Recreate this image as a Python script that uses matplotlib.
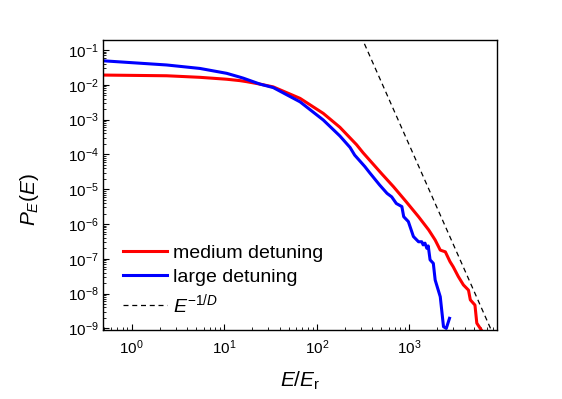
import matplotlib
matplotlib.use('Agg')
import matplotlib.pyplot as plt
import matplotlib.ticker as ticker
import numpy as np

plt.rcParams['font.family'] = ['Liberation Sans', 'DejaVu Sans']
plt.rcParams['mathtext.fontset'] = 'custom'
plt.rcParams['mathtext.rm'] = 'Liberation Sans'
plt.rcParams['mathtext.it'] = 'Liberation Sans:italic'
plt.rcParams['mathtext.bf'] = 'Liberation Sans:bold'

# medium detuning (log10 E/Er, log10 P)
medium_logx = [-0.307, 0.378, 0.738, 1.027, 1.17, 1.243, 1.387, 1.53, 1.82, 2.07,
               2.25, 2.43, 2.50, 2.61, 2.70, 2.83, 2.97, 3.10, 3.21, 3.28, 3.335,
               3.39, 3.44, 3.475, 3.53, 3.585, 3.64, 3.66, 3.71, 3.73, 3.78]
medium_logy = [-1.72, -1.74, -1.785, -1.84, -1.88, -1.91, -1.98, -2.06, -2.39, -2.82,
               -3.22, -3.72, -3.95, -4.28, -4.55, -4.93, -5.37, -5.79, -6.17, -6.46, -6.75,
               -6.80, -7.08, -7.23, -7.51, -7.75, -7.90, -8.18, -8.33, -8.85, -9.05]

# large detuning
large_logx = [-0.307, 0.378, 0.738, 1.027, 1.17, 1.207, 1.387, 1.53, 1.82, 2.07,
              2.25, 2.36, 2.41, 2.52, 2.57, 2.68, 2.76, 2.81, 2.86, 2.92,
              2.94, 2.99, 3.045, 3.10, 3.135, 3.15, 3.17, 3.19, 3.205, 3.225,
              3.26, 3.28, 3.335, 3.37, 3.40, 3.435]
large_logy = [-1.31, -1.43, -1.53, -1.67, -1.78, -1.81, -1.98, -2.08, -2.49, -3.01,
              -3.47, -3.80, -4.02, -4.35, -4.52, -4.88, -5.12, -5.22, -5.41, -5.50,
              -5.79, -5.93, -6.36, -6.51, -6.51, -6.60, -6.55, -6.70, -6.63, -7.03,
              -7.13, -7.61, -8.09, -8.95, -9.0, -8.71]

# E^(-1/D) guide line end points
guide_x = [300, 8800]
guide_y = [2.56e-1, 4.0e-10]

x_ticks = [1e0, 1e1, 1e2, 1e3]
y_ticks = [1e-9, 1e-8, 1e-7, 1e-6, 1e-5, 1e-4, 1e-3, 1e-2, 1e-1]

med_x = 10 ** np.array(medium_logx)
med_y = 10 ** np.array(medium_logy)
lar_x = 10 ** np.array(large_logx)
lar_y = 10 ** np.array(large_logy)

fig = plt.figure(figsize=(5.62, 3.99), dpi=100)
ax = fig.add_axes([0.1838, 0.1717, 0.700, 0.7293])

ax.plot(med_x, med_y, color='#ff0000', lw=2.2, solid_joinstyle='round', label='medium detuning')
ax.plot(lar_x, lar_y, color='#0000ff', lw=2.2, solid_joinstyle='round', label='large detuning')
ax.plot(guide_x, guide_y, color='black', lw=0.9, dashes=(4, 3), label=r'$E^{-1/D}$')

ax.set_xscale('log')
ax.set_yscale('log')
ax.set_xlim(10 ** -0.307, 10 ** 3.945)
ax.set_ylim(10 ** -9.06, 10 ** -0.698)

ax.set_xticks(x_ticks)
ax.set_yticks(y_ticks)
for axis in (ax.xaxis, ax.yaxis):
    axis.set_major_formatter(ticker.LogFormatterSciNotation())
    axis.set_minor_locator(ticker.LogLocator(base=10, subs=np.arange(2, 10), numticks=30))
    axis.set_minor_formatter(ticker.NullFormatter())

ax.tick_params(which='both', direction='in', top=False, right=False)
ax.tick_params(which='major', length=4.3, width=0.8, labelsize=11)
ax.tick_params(which='minor', length=2.2, width=0.6)
ax.tick_params(axis='x', pad=6)
for s in ax.spines.values():
    s.set_linewidth(1.0)

ax.set_xlabel(r'$E/E_\mathrm{r}$', fontsize=15, labelpad=8.5)
ax.set_ylabel(r'$P_E(E)$', fontsize=15)
ax.yaxis.set_label_coords(-0.158, 0.45)

ax.legend(loc='lower left', bbox_to_anchor=(0.0, -0.018), frameon=False, fontsize=14,
          handlelength=2.3, handletextpad=0.3, labelspacing=0.33, borderaxespad=0.6)

fig.savefig('out.png', dpi=100)
